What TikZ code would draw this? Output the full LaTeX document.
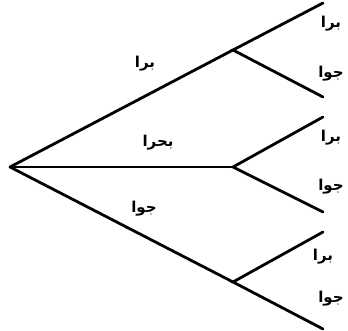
\documentclass[tikz,border=0pt]{standalone}
\usepackage{fontspec}
\newfontfamily\arabicfont[Script=Arabic]{DejaVu Sans}
\TeXXeTstate=1
\usepackage{tikz}
\usetikzlibrary{positioning}

\begin{document}
\begin{tikzpicture}[
    x=1pt, y=-1pt,
    branch/.style={line width=2.8pt, line cap=round},
    lbl/.style={font=\arabicfont\bfseries\fontsize{15}{17}\selectfont, inner sep=0pt}
]
\useasboundingbox (0,0) rectangle (348,331);

% Points
\coordinate (root) at (10,167);
\coordinate (a) at (233,50);
\coordinate (b) at (233,167);
\coordinate (c) at (233,282);
\coordinate (a1) at (323,3);
\coordinate (a2) at (323,97);
\coordinate (b1) at (323,117);
\coordinate (b2) at (323,212);
\coordinate (c1) at (323,232);
\coordinate (c2) at (323,329);

% Branches
\draw[branch] (root) -- (a);
\draw[branch] (root) -- (b);
\draw[branch] (root) -- (c);
\draw[branch] (a1) -- (a) -- (a2);
\draw[branch] (b1) -- (b) -- (b2);
\draw[branch] (c1) -- (c) -- (c2);

% Labels
\node[lbl] (la) at (145,64) {\beginR برا\endR};
\node[lbl] (lb) at (158,143) {\beginR بحرا\endR};
\node[lbl] (lc) at (144,209) {\beginR جوا\endR};
\node[lbl] (la1) at (331,24) {\beginR برا\endR};
\node[lbl] (la2) at (331,74) {\beginR جوا\endR};
\node[lbl] (lb1) at (331,138) {\beginR برا\endR};
\node[lbl] (lb2) at (331,187) {\beginR جوا\endR};
\node[lbl] (lc1) at (323,257) {\beginR برا\endR};
\node[lbl] (lc2) at (331,299) {\beginR جوا\endR};

\end{tikzpicture}
\end{document}
